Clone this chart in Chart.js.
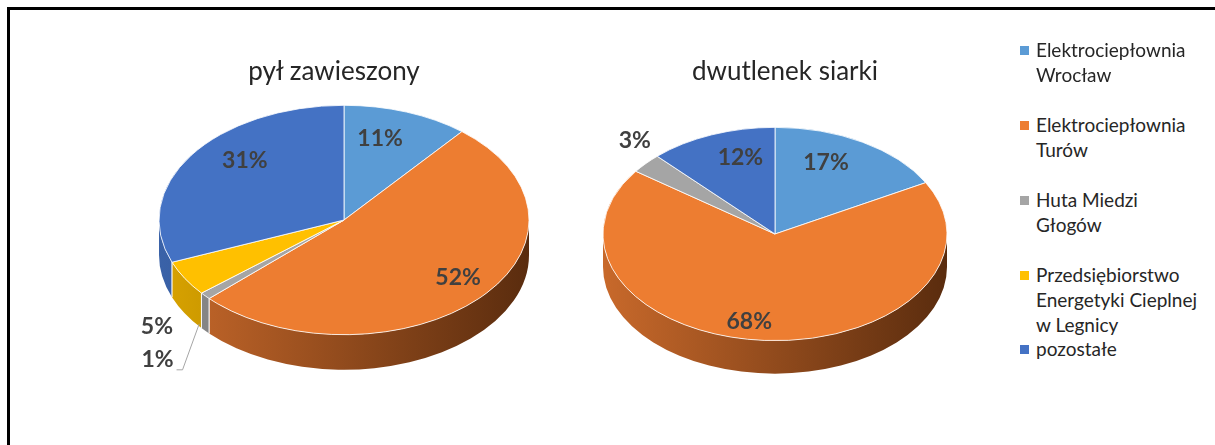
<!DOCTYPE html>
<html><head><meta charset="utf-8">
<script src="https://cdn.jsdelivr.net/npm/chart.js@4.4.1/dist/chart.umd.min.js"></script>
<style>
html,body{margin:0;padding:0;background:#fff;width:1215px;height:445px;overflow:hidden;font-family:Lato,'Open Sans',sans-serif;}
#frame{position:absolute;left:7px;top:7px;width:1230px;height:460px;border-left:3px solid #000;border-top:3px solid #000;}
.title{position:absolute;font-size:26px;line-height:26px;color:#262626;text-align:center;width:400px;white-space:nowrap;}
canvas{position:absolute;}
.leg{position:absolute;left:1036px;font-size:19px;line-height:25px;color:#262626;white-space:nowrap;}
.sq{position:absolute;left:1020px;width:9px;height:9px;}
</style></head><body>
<div id="frame"></div>
<canvas id="c1" width="440" height="420" style="left:124px;top:10px"></canvas>
<canvas id="c2" width="420" height="400" style="left:565px;top:34px"></canvas>
<script>
// ---- data ----
const categories = [
  ['Elektrociepłownia','Wrocław'],
  ['Elektrociepłownia','Turów'],
  ['Huta Miedzi','Głogów'],
  ['Przedsiębiorstwo','Energetyki Cieplnej','w Legnicy'],
  ['pozostałe']
];
const chartTitles = ['pył zawieszony','dwutlenek siarki'];
const dustValues = [11, 52, 1, 5, 31];
const so2Values  = [17, 68, 3, 0, 12];

// ---- styles ----
const colors = ['#5B9BD5','#ED7D31','#A5A5A5','#FFC000','#4472C4'];
const sideLight = ['#4F86B8','#C8692B','#8C8C8C','#D9A300','#3A62A8'];
const sideDark  = ['#2A4C6C','#5A2C0E','#555555','#7A5C00','#213A66'];

function pie3d(cfg){
  return {
    id:'pie3d',
    beforeDatasetsDraw(chart){
      const ctx = chart.ctx;
      const arcs = chart.getDatasetMeta(0).data;
      const cx = arcs[0].x, cy = arcs[0].y, R = arcs[0].outerRadius;
      const k = cfg.ratio, d = cfg.depth / k;
      ctx.save();
      ctx.translate(cx, cy); ctx.scale(1, k); ctx.translate(-cx, -cy);
      arcs.forEach((a, i) => {
        const s = a.startAngle, e = a.endAngle;
        if (e - s <= 0) return;
        const a0 = Math.max(s, 0), a1 = Math.min(e, Math.PI);
        if (a1 <= a0) return;
        const g = ctx.createLinearGradient(cx - R, 0, cx + R, 0);
        g.addColorStop(0, sideLight[i]);
        g.addColorStop(1, sideDark[i]);
        ctx.beginPath();
        ctx.arc(cx, cy, R, a0, a1);
        ctx.lineTo(cx + R*Math.cos(a1), cy + d + R*Math.sin(a1));
        ctx.arc(cx, cy + d, R, a1, a0, true);
        ctx.closePath();
        ctx.fillStyle = g;
        ctx.fill();
      });
      // seams
      ctx.strokeStyle = 'rgba(255,255,255,0.85)';
      ctx.lineWidth = 1;
      arcs.forEach(a => {
        [a.startAngle, a.endAngle].forEach(t => {
          if (t > 0.02 && t < Math.PI - 0.02) {
            ctx.beginPath();
            ctx.moveTo(cx + R*Math.cos(t), cy + R*Math.sin(t));
            ctx.lineTo(cx + R*Math.cos(t), cy + d + R*Math.sin(t));
            ctx.stroke();
          }
        });
      });
    },
    afterDatasetsDraw(chart){
      const ctx = chart.ctx;
      ctx.restore();
      const arcs = chart.getDatasetMeta(0).data;
      const vals = chart.data.datasets[0].data;
      const k = cfg.ratio;
      ctx.save();
      ctx.font = 'bold 23px Lato';
      ctx.fillStyle = '#404040';
      ctx.textAlign = 'center';
      ctx.textBaseline = 'middle';
      arcs.forEach((a, i) => {
        const p = cfg.labels[i];
        if (!p || !vals[i]) return;
        const m = (a.startAngle + a.endAngle) / 2;
        const R = a.outerRadius;
        const x = a.x + p.f*R*Math.cos(m) + p.dx;
        const y = a.y + p.f*R*k*Math.sin(m) + p.dy;
        ctx.fillText(vals[i] + '%', x, y);
        if (p.leader) {
          ctx.strokeStyle = '#A5A5A5';
          ctx.lineWidth = 1;
          ctx.beginPath();
          ctx.moveTo(a.x + R*Math.cos(m) - 6, a.y + R*k*Math.sin(m) + cfg.depth*0.8);
          ctx.lineTo(x + 25, y + 10);
          ctx.lineTo(x + 19, y + 10);
          ctx.stroke();
        }
      });
      ctx.restore();
    }
  };
}

function makePie(id, values, radius, cfg){
  return new Chart(document.getElementById(id), {
    type:'pie',
    data:{
      labels: categories.map(c => c.join(' ')),
      datasets:[{data: values, backgroundColor: colors, borderColor:'#ffffff', borderWidth:1, radius: radius}]
    },
    options:{
      responsive:false, animation:false, events:[],
      layout:{padding:0},
      plugins:{legend:{display:false}, tooltip:{enabled:false}, title:{display:false}}
    },
    plugins:[pie3d(cfg)]
  });
}

makePie('c1', dustValues, 185, {ratio:0.62, depth:35, labels:[
  {f:0.72, dx:-9, dy:-4},
  {f:0.72, dx:17, dy:1},
  {f:1.25, dx:-13, dy:45, leader:true},
  {f:1.25, dx:12, dy:34},
  {f:0.72, dx:11, dy:-13}
]});
makePie('c2', so2Values, 172, {ratio:0.62, depth:33, labels:[
  {f:0.72, dx:-12, dy:-5},
  {f:0.72, dx:-18, dy:11},
  {f:1.25, dx:21, dy:-5},
  null,
  {f:0.72, dx:11, dy:-5}
]});

// titles
const titleCenters = [334, 785];
chartTitles.forEach((t, i) => {
  const el = document.createElement('div');
  el.className = 'title';
  el.textContent = t;
  el.style.left = (titleCenters[i] - 200) + 'px';
  el.style.top = '57px';
  document.body.appendChild(el);
});

// legend
const legendBaselines = [57, 132, 207, 282, 356];
categories.forEach((lines, i) => {
  const top = legendBaselines[i] - 20;
  const sq = document.createElement('div');
  sq.className = 'sq';
  sq.style.background = colors[i];
  sq.style.top = (legendBaselines[i] - 11) + 'px';
  document.body.appendChild(sq);
  const el = document.createElement('div');
  el.className = 'leg';
  el.style.top = top + 'px';
  el.innerHTML = lines.map(l => l.replace(/&/g,'&amp;')).join('<br>');
  document.body.appendChild(el);
});
</script>
</body></html>
